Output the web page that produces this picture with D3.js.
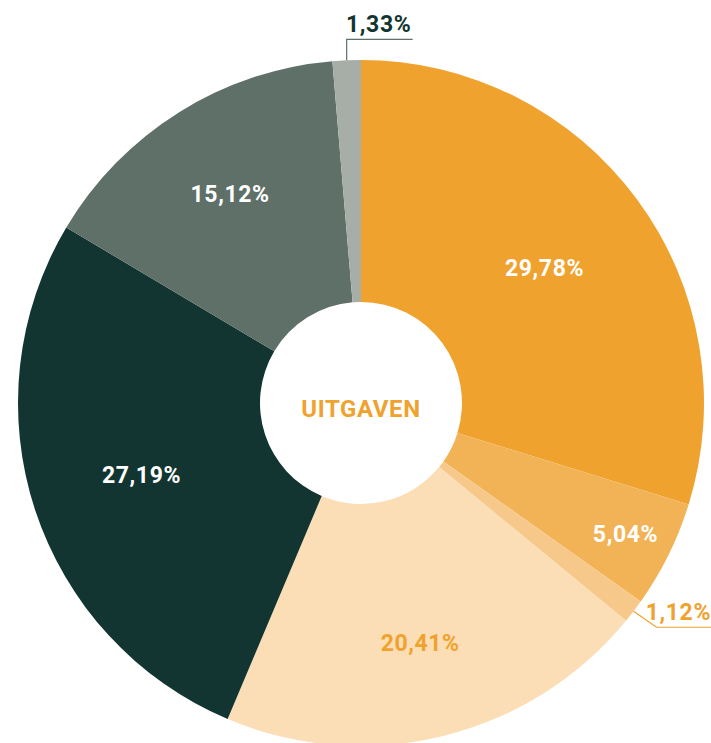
<!DOCTYPE html>
<html>
<head>
<meta charset="utf-8">
<script src="https://cdn.jsdelivr.net/npm/d3@7"></script>
<style>
  html, body { margin: 0; padding: 0; background: #fff; }
  svg text { font-family: Roboto, "DejaVu Sans", sans-serif; font-weight: 700; letter-spacing: 0.6px; }
</style>
</head>
<body>
<div id="chart"></div>
<script>
// slices, clockwise from 12 o'clock
const categories = ["a", "b", "c", "d", "e", "f", "g"]
const values = [29.78, 5.04, 1.12, 20.41, 27.19, 15.12, 1.33]
const labels = ["29,78%", "5,04%", "1,12%", "20,41%", "27,19%", "15,12%", "1,33%"]
const sliceColors = ["#f0a22e", "#f2b357", "#f6c98b", "#fbdeb5", "#133531", "#5e7068", "#a7aea8"]
const labelColors = ["#fff", "#fff", "#f0a22e", "#f0a22e", "#fff", "#fff", "#133531"]
const centerTitle = "UITGAVEN"

const width = 711, height = 743
const cx = 361, cy = 403
const outer = 343, inner = 101
// distance of each inside label from the centre (layout only)
const labelRadius = [228, 295, 0, 247, 231, 247, 0]

const svg = d3.select("#chart").append("svg")
    .attr("width", width)
    .attr("height", height)

const g = svg.append("g").attr("transform", `translate(${cx},${cy})`)

const pie = d3.pie().sort(null).value(d => d.value)
const arcs = pie(categories.map((c, i) => ({ name: c, value: values[i], i })))

const arc = d3.arc().innerRadius(inner).outerRadius(outer)

g.selectAll("path.slice")
    .data(arcs)
    .join("path")
    .attr("class", "slice")
    .attr("fill", d => sliceColors[d.data.i])
    .attr("d", arc)

// inside labels
const insideArcs = arcs.filter(d => d.data.value > 2)
g.selectAll("text.inside")
    .data(insideArcs)
    .join("text")
    .attr("class", "inside")
    .attr("transform", d => {
        const r = labelRadius[d.data.i]
        return `translate(${d3.arc().innerRadius(r).outerRadius(r).centroid(d)})`
    })
    .attr("text-anchor", "middle")
    .attr("dy", "0.36em")
    .attr("font-size", 23)
    .attr("fill", d => labelColors[d.data.i])
    .text(d => labels[d.data.i])

// outside labels with leader lines
const outside = arcs.filter(d => d.data.value <= 2)
outside.forEach(d => {
    const mid = (d.startAngle + d.endAngle) / 2
    const px = Math.sin(mid) * outer, py = -Math.cos(mid) * outer
    let pts, tx, ty, anchor
    if (py < 0) {
        // top: vertical up then right
        pts = [[px, py], [px, py - 21], [px + 66, py - 21]]
        tx = px + 32; ty = py - 28; anchor = "middle"
    } else {
        // lower right: diagonal then horizontal
        pts = [[px, py], [px + 23, py + 16], [width - cx, py + 16]]
        tx = width - cx; ty = py + 9; anchor = "end"
    }
    g.append("polyline")
        .attr("points", pts.map(p => p.join(",")).join(" "))
        .attr("fill", "none")
        .attr("stroke", d.data.i === 6 ? "#5e7068" : "#f0a22e")
        .attr("stroke-width", 1.2)
    g.append("text")
        .attr("x", tx)
        .attr("y", ty)
        .attr("text-anchor", anchor)
        .attr("font-size", 23)
        .attr("fill", labelColors[d.data.i])
        .text(labels[d.data.i])
})

g.append("text")
    .attr("text-anchor", "middle")
    .attr("dy", "0.36em")
    .attr("y", 5)
    .attr("font-size", 24)
    .attr("fill", "#f0a22e")
    .text(centerTitle)
</script>
</body>
</html>
